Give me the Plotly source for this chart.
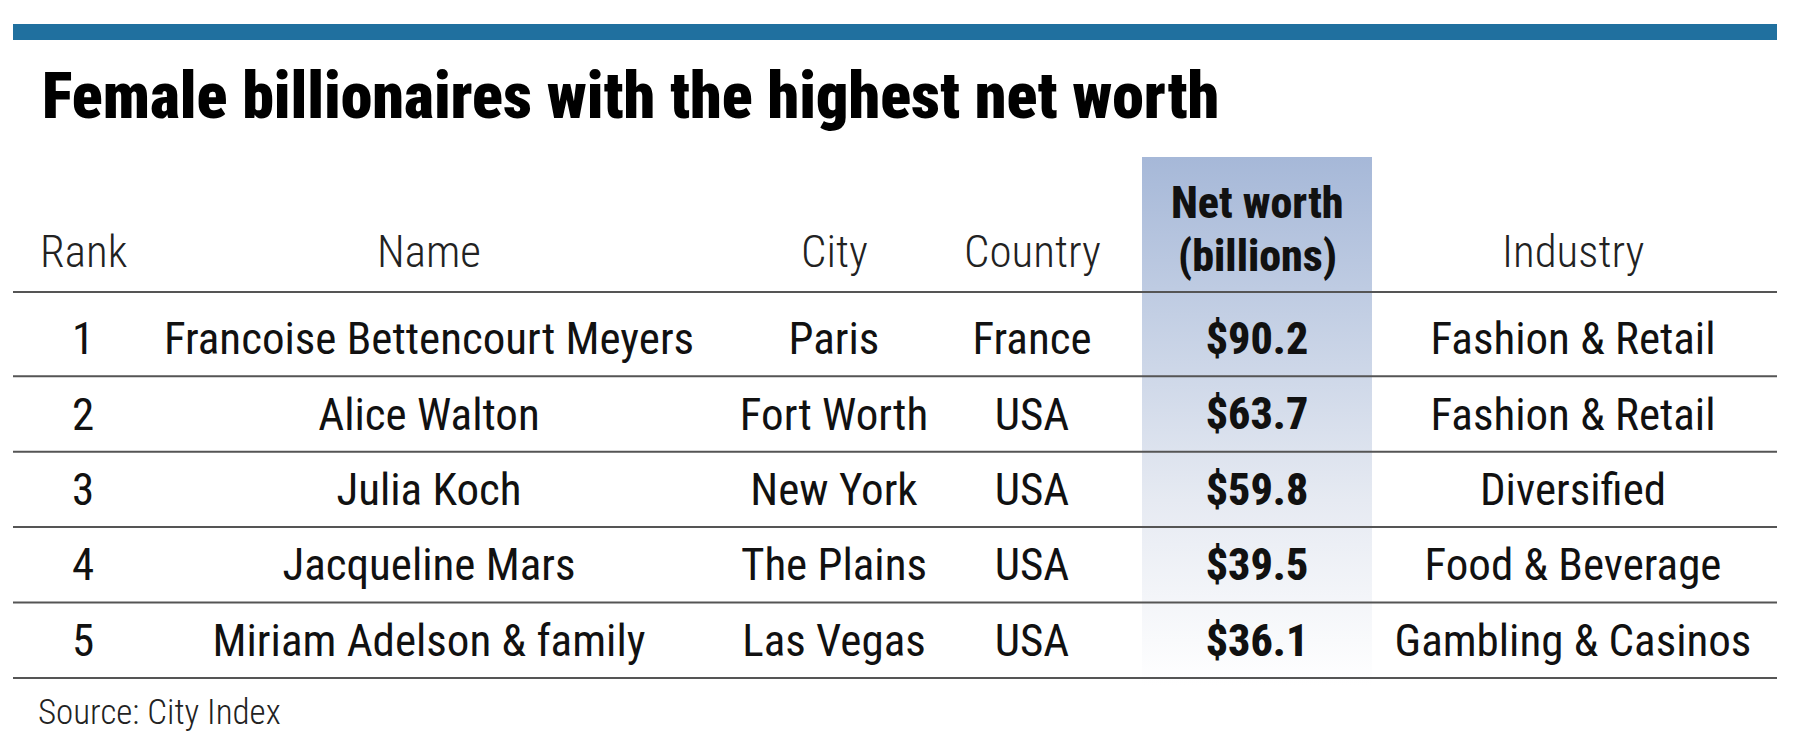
import plotly.graph_objects as go

# table data
ranks = [1, 2, 3, 4, 5]
names = ["Francoise Bettencourt Meyers", "Alice Walton", "Julia Koch",
         "Jacqueline Mars", "Miriam Adelson & family"]
cities = ["Paris", "Fort Worth", "New York", "The Plains", "Las Vegas"]
countries = ["France", "USA", "USA", "USA", "USA"]
net_worth = [90.2, 63.7, 59.8, 39.5, 36.1]
industries = ["Fashion & Retail", "Fashion & Retail", "Diversified",
              "Food & Beverage", "Gambling & Casinos"]
headers = ["Rank", "Name", "City", "Country", "Net worth|(billions)", "Industry"]

W, H = 1798, 751
OFF = 8  # page body margin, keeps data coords = screen pixels
FONT = "Roboto Condensed, Liberation Sans Narrow, DejaVu Sans Condensed, sans-serif"

# layout of the table (pixels)
col_x = [83, 429, 834, 1032, 1257, 1573]
head_line = 292
first_row = 343
row_h = 75.4
left, right = 13, 1777


def main():
    fig = go.Figure()

    n = len(ranks)
    row_y = [first_row + i * row_h for i in range(n)]

    # shaded net worth column
    fig.add_trace(go.Scatter(
        x=[1142, 1372, 1372, 1142, 1142],
        y=[157, 157, 685, 685, 157],
        mode="lines",
        line=dict(width=0),
        fill="toself",
        fillgradient=dict(type="vertical", start=157, stop=685,
                          colorscale=[[0, "#a6b8d8"], [0.3, "#c3cfe4"],
                                      [0.65, "#e6eaf2"], [1, "#ffffff"]]),
        hoverinfo="skip",
        showlegend=False
    ))

    columns = [
        [str(r) for r in ranks],
        names,
        cities,
        countries,
        ["$%.1f" % v for v in net_worth],
        industries,
    ]
    for i, (cx, vals) in enumerate(zip(col_x, columns)):
        fig.add_trace(go.Scatter(
            x=[cx] * n,
            y=row_y,
            mode="text",
            text=vals,
            textposition="middle center",
            textfont=dict(family=FONT, size=44 if i == 4 else 45,
                          weight=800 if i == 4 else 400, color="#111111"),
            hoverinfo="skip",
            showlegend=False
        ))

    # header row
    for i, (cx, h) in enumerate(zip(col_x, headers)):
        if i == 4:
            for j, part in enumerate(h.split("|")):
                fig.add_annotation(x=cx, y=203 + j * 53, text=part,
                                   showarrow=False, xanchor="center", yanchor="middle",
                                   font=dict(family=FONT, size=44, weight=800,
                                             color="#111111"))
        else:
            fig.add_annotation(x=cx, y=251, text=h, showarrow=False,
                               xanchor="center", yanchor="middle",
                               font=dict(family=FONT, size=45, weight=300,
                                         color="#222222"))

    # rules: under the header, then between/below the rows
    rules = [head_line] + [y - 4.4 + row_h / 2 for y in row_y]
    for y in rules:
        fig.add_shape(type="line", x0=left, x1=right, y0=y, y1=y,
                      line=dict(color="#555555", width=2))

    # top blue bar
    fig.add_shape(type="rect", x0=13, x1=1777, y0=24, y1=40,
                  fillcolor="#20709f", line=dict(width=0))

    # title and source
    fig.add_annotation(x=40, y=96, text="Female billionaires with the highest net worth",
                       showarrow=False, xanchor="left", yanchor="middle",
                       font=dict(family=FONT, size=64, weight=900, color="#000000"))
    fig.add_annotation(x=36, y=712, text="Source: City Index",
                       showarrow=False, xanchor="left", yanchor="middle",
                       font=dict(family=FONT, size=35, weight=300, color="#222222"))

    fig.update_layout(
        width=W, height=H,
        margin=dict(l=0, r=0, t=0, b=0),
        paper_bgcolor="white", plot_bgcolor="white",
        xaxis=dict(range=[OFF, W + OFF], visible=False, fixedrange=True),
        yaxis=dict(range=[H + OFF, OFF], visible=False, fixedrange=True),
    )

    fig.write_html("out.html")


if __name__ == "__main__":
    main()
